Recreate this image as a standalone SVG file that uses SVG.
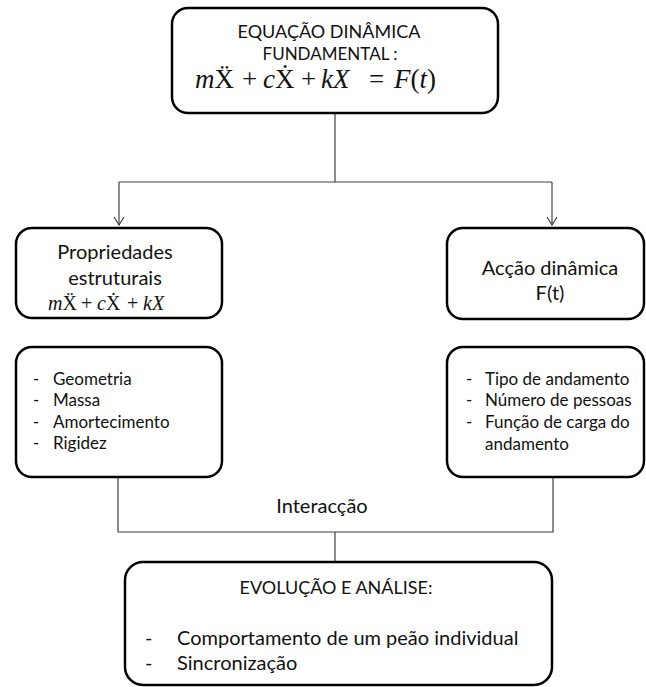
<svg xmlns="http://www.w3.org/2000/svg" width="646" height="687" viewBox="0 0 646 687">
<defs>
<style>
.box{fill:#fff;stroke:#000;stroke-width:2.5}
.t{font-family:Lato,"Open Sans","Liberation Sans",sans-serif;font-size:17px;fill:#111}
.s18{font-size:18px}
.m{font-size:20px}
.eq{font-family:"Liberation Serif","DejaVu Serif",serif;fill:#111}
.e1{font-size:27px}
.e2{font-size:20px}
.it{font-style:italic}
.c{fill:none;stroke:#404040;stroke-width:1.2}
</style>
<marker id="arr" viewBox="0 0 10 12" refX="9" refY="6" markerWidth="10" markerHeight="12" markerUnits="userSpaceOnUse" orient="auto">
<path d="M1,1 L9,6 L1,11" fill="none" stroke="#404040" stroke-width="1.2"/>
</marker>
</defs>
<rect width="646" height="687" fill="#fff"/>
<g id="connectors">
<path class="c" d="M335,113 V182"/>
<path class="c" d="M119,182 H552"/>
<path class="c" d="M119,182 V225" marker-end="url(#arr)"/>
<path class="c" d="M552,182 V225" marker-end="url(#arr)"/>
<path class="c" d="M118,478 V532 H553 V478"/>
<path class="c" d="M335,532 V562"/>
</g>
<g id="node-equacao">
<rect class="box" x="172" y="8" width="326" height="105" rx="16"/>
<text class="t s18" x="329" y="38" text-anchor="middle">EQUAÇÃO DINÂMICA</text>
<text class="t" x="330" y="60" text-anchor="middle">FUNDAMENTAL :</text>
<text class="eq e1" y="88"><tspan x="195" class="it">m</tspan><tspan>Ẍ</tspan><tspan x="242">+</tspan><tspan x="263" class="it">c</tspan><tspan>Ẋ</tspan><tspan x="301">+</tspan><tspan x="321" class="it">kX</tspan><tspan x="369">=</tspan><tspan x="394" class="it">F</tspan><tspan>(</tspan><tspan class="it">t</tspan><tspan>)</tspan></text>
</g>
<g id="node-propriedades">
<rect class="box" x="16" y="228" width="206" height="90" rx="16"/>
<text class="t m" x="115" y="259" text-anchor="middle">Propriedades</text>
<text class="t m" x="115" y="285" text-anchor="middle">estruturais</text>
<text class="eq e2" y="310"><tspan x="48" class="it">m</tspan><tspan>Ẍ</tspan><tspan x="81">+</tspan><tspan x="97" class="it">c</tspan><tspan>Ẋ</tspan><tspan x="127">+</tspan><tspan x="143" class="it">kX</tspan></text>
</g>
<g id="node-accao">
<rect class="box" x="447" y="228" width="197" height="91" rx="16"/>
<text class="t m" x="550" y="275" text-anchor="middle">Acção dinâmica</text>
<text class="t m" x="550" y="300" text-anchor="middle">F(t)</text>
</g>
<g id="node-lista-estrutura">
<rect class="box" x="16" y="347" width="206" height="130" rx="16"/>
<text class="t" x="33" y="385">-</text><text class="t" x="53" y="385">Geometria</text>
<text class="t" x="33" y="406">-</text><text class="t" x="53" y="406">Massa</text>
<text class="t" x="33" y="428">-</text><text class="t" x="53" y="428">Amortecimento</text>
<text class="t" x="33" y="449">-</text><text class="t" x="53" y="449">Rigidez</text>
</g>
<g id="node-lista-accao">
<rect class="box" x="447" y="347" width="197" height="130" rx="16"/>
<text class="t" x="466" y="385">-</text><text class="t" x="485" y="385">Tipo de andamento</text>
<text class="t" x="466" y="406">-</text><text class="t" x="485" y="406">Número de pessoas</text>
<text class="t" x="466" y="428">-</text><text class="t" x="485" y="428">Função de carga do</text>
<text class="t" x="485" y="450">andamento</text>
</g>
<g id="label-interaccao">
<text class="t m" x="322" y="513" text-anchor="middle">Interacção</text>
</g>
<g id="node-evolucao">
<rect class="box" x="125" y="562" width="427" height="123" rx="18"/>
<text class="t s18" x="336" y="594" text-anchor="middle">EVOLUÇÃO E ANÁLISE:</text>
<text class="t m" x="145" y="645">-</text><text class="t m" x="177" y="645">Comportamento de um peão individual</text>
<text class="t m" x="145" y="670">-</text><text class="t m" x="177" y="670">Sincronização</text>
</g>
</svg>
